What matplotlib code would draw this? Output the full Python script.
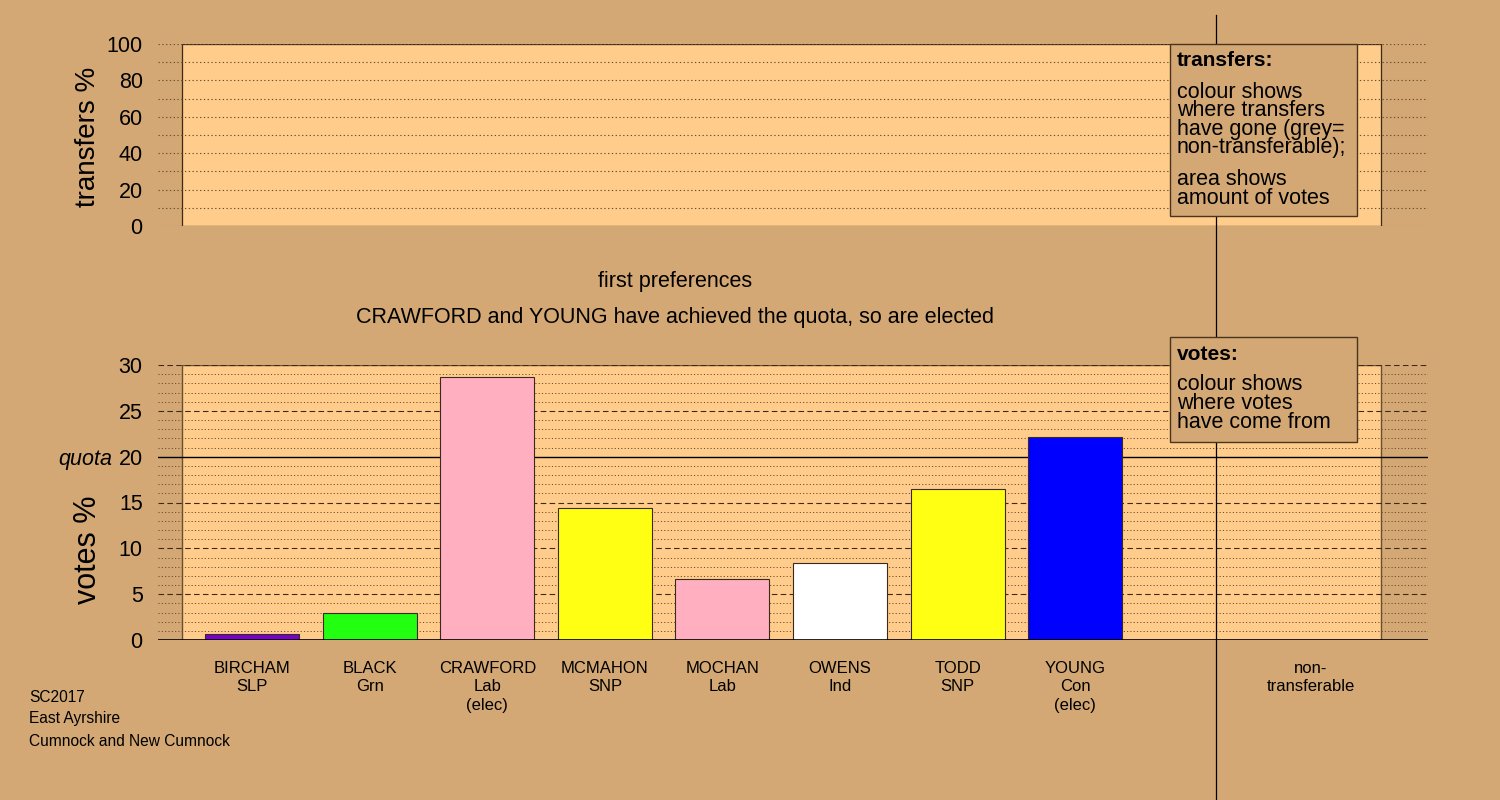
import matplotlib.pyplot as plt
from matplotlib.patches import Rectangle
from matplotlib.lines import Line2D
import numpy as np

plt.rcParams['font.family'] = ['Liberation Sans', 'DejaVu Sans']

# datos
candidatos = ['BIRCHAM', 'BLACK', 'CRAWFORD', 'MCMAHON', 'MOCHAN', 'OWENS', 'TODD', 'YOUNG']
partidos = ['SLP', 'Grn', 'Lab', 'SNP', 'Lab', 'Ind', 'SNP', 'Con']
elegidos = [False, False, True, False, False, False, False, True]
votos = [0.65, 2.9, 28.7, 14.4, 6.65, 8.4, 16.5, 22.2]
colores = ['#7700cc', '#22ff11', '#ffafc0', '#ffff14', '#ffafc0', '#ffffff', '#ffff14', '#0000ff']
cuota = 20
footer = ['SC2017', 'East Ayrshire', 'Cumnock and New Cumnock']

fondo = '#d3a874'
relleno = '#ffcc8c'
W, H = 1500, 800

fig = plt.figure(figsize=(15, 8), dpi=100, facecolor=fondo)

def px_ax(x0, y0, x1, y1):
    return fig.add_axes([x0 / W, 1 - y1 / H, (x1 - x0) / W, (y1 - y0) / H])

xpos = list(range(len(candidatos))) + [9]
xlim = (-0.8, 10.0)
rect_x = (-0.6, 9.6)

# panel superior: transferencias
ax1 = px_ax(158, 44, 1428, 226)
ax1.set_facecolor('none')
ax1.set_xlim(*xlim)
ax1.set_ylim(0, 100)
ax1.add_patch(Rectangle((rect_x[0], 0), rect_x[1] - rect_x[0], 100, facecolor=relleno,
                        edgecolor='#3a2a1a', linewidth=0.9, zorder=0))
for y in range(0, 101, 10):
    ax1.axhline(y, color='#6a5030', linestyle=(0, (1.2, 2.2)), linewidth=0.8, zorder=1)
ax1.set_yticks(range(0, 101, 20))
ax1.tick_params(axis='y', length=0, pad=11, labelsize=15.5)
ax1.set_xticks([])
for s in ax1.spines.values():
    s.set_visible(False)

# panel inferior: votos
ax2 = px_ax(158, 365, 1428, 640)
ax2.set_facecolor('none')
ax2.set_xlim(*xlim)
ax2.set_ylim(0, 30)
ax2.add_patch(Rectangle((rect_x[0], 0), rect_x[1] - rect_x[0], 30, facecolor=relleno,
                        edgecolor='#6a5030', linewidth=1.0, zorder=0))
for y in range(1, 31):
    if y == cuota:
        ax2.axhline(y, color='black', linewidth=1.0, zorder=1)
    elif y % 5 == 0:
        ax2.axhline(y, color='#3a2a1a', linestyle=(0, (5, 3)), linewidth=0.8, zorder=1)
    else:
        ax2.axhline(y, color='#6a5030', linestyle=(0, (1.2, 2.2)), linewidth=0.7, zorder=1)
ax2.axhline(0, color='black', linewidth=1.2, zorder=3)

ax2.bar(xpos[:len(votos)], votos, width=0.8, color=colores, edgecolor='#3a2a1a',
        linewidth=0.8, zorder=2)

etiquetas = []
for c, p, e in zip(candidatos, partidos, elegidos):
    etiquetas.append(c + '\n' + p + ('\n(elec)' if e else ''))
etiquetas.append('non-\ntransferable')
ax2.set_xticks(xpos)
ax2.set_xticklabels(etiquetas, fontsize=12, linespacing=1.3, va='top')
ax2.tick_params(axis='x', length=0, pad=15)
ax2.set_yticks(range(0, 31, 5))
ax2.tick_params(axis='y', length=0, pad=11, labelsize=15.5)
for s in ax2.spines.values():
    s.set_visible(False)

fig.text(112 / W, 1 - 460 / H, 'quota', fontsize=15.5, style='italic', ha='right', va='center')

# etiquetas de ejes
fig.text(88 / W, 1 - 137 / H, 'transfers %', fontsize=20, rotation=90, ha='center', va='center')
fig.text(88 / W, 1 - 550 / H, 'votes %', fontsize=22, rotation=90, ha='center', va='center')

# títulos
fig.text(675 / W, 1 - 281 / H, 'first preferences', fontsize=15.5, ha='center', va='center')
fig.text(675 / W, 1 - 317 / H, 'CRAWFORD and YOUNG have achieved the quota, so are elected',
         fontsize=15.5, ha='center', va='center')

# línea divisoria
fig.add_artist(Line2D([1216 / W, 1216 / W], [0, 1 - 15 / H], color='black', linewidth=0.9, zorder=5))

# cajas de leyenda
def caja(x0, y0, x1, y1, titulo, bloques):
    fig.add_artist(Rectangle((x0 / W, 1 - y1 / H), (x1 - x0) / W, (y1 - y0) / H,
                             transform=fig.transFigure, facecolor=fondo,
                             edgecolor='#4a3620', linewidth=1.0, zorder=6))
    fig.text((x0 + 7) / W, 1 - (y0 + 17) / H, titulo, fontsize=15, fontweight='bold',
             va='center', zorder=7)
    y = y0 + 48
    for bloque in bloques:
        for linea in bloque:
            fig.text((x0 + 7) / W, 1 - y / H, linea, fontsize=15.5, va='center', zorder=7)
            y += 18.5
        y += 13.5

caja(1170, 44, 1357, 216, 'transfers:',
     [['colour shows', 'where transfers', 'have gone (grey=', 'non-transferable);'],
      ['area shows', 'amount of votes']])
caja(1170, 337, 1357, 442, 'votes:',
     [['colour shows', 'where votes', 'have come from']])

# pie
for i, t in enumerate(footer):
    fig.text(29 / W, 1 - (697 + 22 * i) / H, t, fontsize=11.2, va='center')

fig.savefig('out.png', dpi=100, facecolor=fondo)
